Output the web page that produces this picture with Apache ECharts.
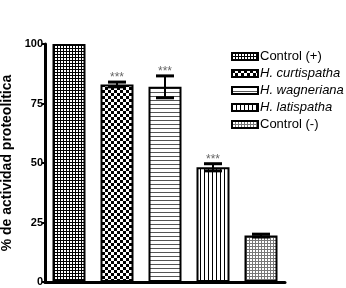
<!DOCTYPE html>
<html>
<head>
<meta charset="utf-8">
<script src="https://cdn.jsdelivr.net/npm/echarts@6/dist/echarts.min.js"></script>
<style>html,body{margin:0;padding:0;background:#fff}</style>
</head>
<body>
<div id="chart" style="width:346px;height:288px"></div>
<script>
var groups = ["Control (+)", "H. curtispatha", "H. wagneriana", "H. latispatha", "Control (-)"];
var means = [100, 83, 82, 48.2, 19.5];
var errors = [0, 1, 4.6, 1.5, 0.6];
var stars = ["", "***", "***", "***", ""];
var yTicks = [0, 25, 50, 75, 100];

// small canvas patterns for the bar fills
function makePattern(kind) {
  var c = document.createElement("canvas");
  var s = kind == "check" ? 6 : (kind == "fine" || kind == "light" ? 3 : 4);
  c.width = s; c.height = s;
  var g = c.getContext("2d");
  g.fillStyle = "#fff";
  g.fillRect(0, 0, s, s);
  g.fillStyle = kind == "light" ? "#777" : "#000";
  if (kind == "fine" || kind == "light") {
    g.fillRect(0, 0, s, 1);
    g.fillRect(0, 0, 1, s);
  } else if (kind == "check") {
    g.fillRect(0, 0, 3, 3);
    g.fillRect(3, 3, 3, 3);
  } else if (kind == "hline") {
    g.fillStyle = "#555";
    g.fillRect(0, 0, s, 1);
  } else if (kind == "vline") {
    g.fillRect(0, 0, 1, s);
  }
  return { image: c, repeat: "repeat" };
}
var kinds = ["fine", "check", "hline", "vline", "light"];

var series = groups.map(function (name, i) {
  var d = groups.map(function (g, j) { return j == i ? means[i] : null; });
  return {
    name: name,
    type: "bar",
    stack: "all",
    barWidth: 33,
    data: d,
    itemStyle: { color: makePattern(kinds[i]), borderColor: "#000", borderWidth: 2 }
  };
});

series.push({
  type: "custom",
  data: means.map(function (m, i) { return [i, m, errors[i]]; }),
  z: 10,
  renderItem: function (params, api) {
    var i = api.value(0), m = api.value(1), e = api.value(2);
    var top = api.coord([i, m + e]);
    var bot = api.coord([i, m - e]);
    var x = top[0];
    var children = [];
    if (e > 0) {
      children.push({ type: "line", shape: { x1: x, y1: top[1], x2: x, y2: bot[1] }, style: { stroke: "#000", lineWidth: 2 } });
      children.push({ type: "rect", shape: { x: x - 9, y: top[1] - 1.5, width: 18, height: 3 }, style: { fill: "#000" } });
      children.push({ type: "rect", shape: { x: x - 9, y: bot[1] - 1.5, width: 18, height: 3 }, style: { fill: "#000" } });
    }
    if (stars[i]) {
      children.push({ type: "text", x: x, y: top[1] + 2, style: { text: stars[i], fill: "#666", font: "12px Liberation Sans", align: "center", verticalAlign: "bottom" } });
    }
    return { type: "group", children: children };
  }
});

var chart = echarts.init(document.getElementById("chart"));
chart.setOption({
  animation: false,
  grid: { left: 45, right: 61, top: 44, bottom: 6, containLabel: false, outerBoundsMode: "none" },
  legend: {
    data: groups,
    orient: "vertical",
    left: 226,
    top: 45,
    icon: "rect",
    itemWidth: 26,
    itemHeight: 7,
    itemGap: 4,
    textStyle: { fontFamily: "Liberation Sans", fontSize: 13, color: "#000", padding: [0, 0, 0, -3],
      rich: { i: { fontStyle: "italic", fontFamily: "Liberation Sans", fontSize: 13 } } },
    formatter: function (n) { return n.indexOf("H.") == 0 ? "{i|" + n + "}" : n; }
  },
  xAxis: {
    type: "category",
    data: groups,
    axisLine: { lineStyle: { color: "#000", width: 3 } },
    axisTick: { show: false },
    axisLabel: { show: false }
  },
  yAxis: {
    type: "value",
    min: 0, max: 100, interval: 25,
    name: "% de actividad proteolitica",
    nameLocation: "middle",
    nameGap: 29,
    nameTextStyle: { fontFamily: "Liberation Sans", fontWeight: "bold", fontSize: 14, color: "#000" },
    axisLine: { show: true, lineStyle: { color: "#000", width: 3 } },
    axisTick: { show: true, length: 3, lineStyle: { color: "#000", width: 2 } },
    axisLabel: { fontFamily: "Liberation Sans", fontWeight: "bold", fontSize: 11, color: "#000", margin: 2,
      formatter: function (v) { return yTicks.indexOf(v) >= 0 ? v : ""; } },
    splitLine: { show: false }
  },
  series: series
});
</script>
</body>
</html>
